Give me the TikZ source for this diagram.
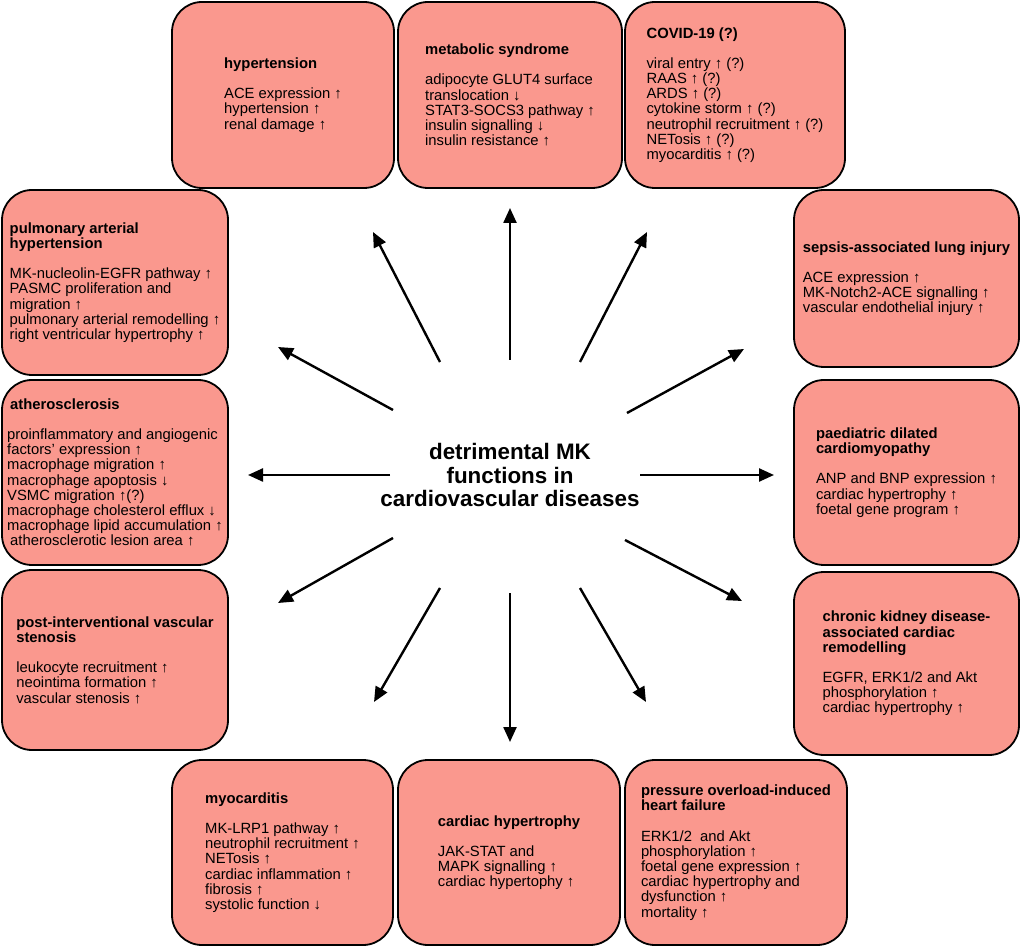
\documentclass[tikz,border=0pt]{standalone}
\usepackage{fontspec}
\setmainfont{Liberation Sans}
\usetikzlibrary{arrows.meta}
\definecolor{boxfill}{RGB}{250,152,142}
\begin{document}
\begin{tikzpicture}[x=1pt,y=-1pt,
  box/.style={draw=black, line width=1.8pt, fill=boxfill, rounded corners=30pt,
    align=left, font=\fontsize{14.8}{15.2}\selectfont, inner sep=0pt},
  arr/.style={line width=2.4pt, -{Triangle[length=15pt,width=13pt]}},
  ttl/.style={font=\bfseries\fontsize{22.4}{23.5}\selectfont, align=center}]
\useasboundingbox (0,0) rectangle (1021,949);

% top row
\node[box, minimum width=222pt, minimum height=186pt] (hyp) at (283,95)
  {\textbf{hypertension}\\[15pt]
   ACE expression ↑\\ hypertension ↑\\ renal damage ↑};
\node[box, minimum width=224pt, minimum height=186pt] (met) at (510,95)
  {\textbf{metabolic syndrome}\\[15pt]
   adipocyte GLUT4 surface\\ translocation ↓\\ STAT3-SOCS3 pathway ↑\\
   insulin signalling ↓\\ insulin resistance ↑};
\node[box, minimum width=220pt, minimum height=186pt] (cov) at (735,95)
  {\textbf{COVID-19 (?)}\\[15pt]
   viral entry ↑ (?)\\ RAAS ↑ (?)\\ ARDS ↑ (?)\\ cytokine storm ↑ (?)\\
   neutrophil recruitment ↑ (?)\\ NETosis ↑ (?)\\ myocarditis ↑ (?)};

% left column
\node[box, minimum width=226pt, minimum height=185pt] (pah) at (115,282.5)
  {\textbf{pulmonary arterial}\\ \textbf{hypertension}\\[15pt]
   MK-nucleolin-EGFR pathway ↑\\ PASMC proliferation and\\ migration ↑\\
   pulmonary arterial remodelling ↑\\ right ventricular hypertrophy ↑};
\node[box, minimum width=226pt, minimum height=185pt] (ath) at (115,472.5)
  {\hspace*{3pt}\textbf{atherosclerosis}\\[15pt]
   proinflammatory and angiogenic\\ factors' expression ↑\\
   macrophage migration ↑\\ macrophage apoptosis ↓\\ VSMC migration ↑(?)\\
   macrophage cholesterol efflux ↓\\ macrophage lipid accumulation ↑\\
   \hspace*{3pt}atherosclerotic lesion area ↑};
\node[box, minimum width=226pt, minimum height=180pt] (pis) at (115,660)
  {\textbf{post-interventional vascular}\\ \textbf{stenosis}\\[15pt]
   leukocyte recruitment ↑\\ neointima formation ↑\\ vascular stenosis ↑};

% right column
\node[box, minimum width=225pt, minimum height=177pt] (sep) at (906.5,278.5)
  {\textbf{sepsis-associated lung injury}\\[15pt]
   ACE expression ↑\\ MK-Notch2-ACE signalling ↑\\ vascular endothelial injury ↑};
\node[box, minimum width=225pt, minimum height=185pt] (pdc) at (906.5,472.5)
  {\textbf{paediatric dilated}\\ \textbf{cardiomyopathy}\\[15pt]
   ANP and BNP expression ↑\\ cardiac hypertrophy ↑\\ foetal gene program ↑};
\node[box, minimum width=225pt, minimum height=183pt] (ckd) at (906.5,663.5)
  {\textbf{chronic kidney disease-}\\ \textbf{associated cardiac}\\ \textbf{remodelling}\\[15pt]
   EGFR, ERK1/2 and Akt\\ phosphorylation ↑\\ cardiac hypertrophy ↑};

% bottom row
\node[box, minimum width=221pt, minimum height=185pt] (myo) at (282.5,852.5)
  {\textbf{myocarditis}\\[15pt]
   MK-LRP1 pathway ↑\\ neutrophil recruitment ↑\\ NETosis ↑\\
   cardiac inflammation ↑\\ fibrosis ↑\\ systolic function ↓};
\node[box, minimum width=222pt, minimum height=185pt] (chy) at (509,852.5)
  {\textbf{cardiac hypertrophy}\\[15pt]
   JAK-STAT and\\ MAPK signalling ↑\\ cardiac hypertophy ↑};
\node[box, minimum width=222pt, minimum height=185pt] (pof) at (736,852.5)
  {\textbf{pressure overload-induced}\\ \textbf{heart failure}\\[15pt]
   ERK1/2~ and Akt\\ phosphorylation ↑\\ foetal gene expression ↑\\
   cardiac hypertrophy and\\ dysfunction ↑\\ mortality ↑};

% centre
\node[ttl] (c) at (510,475) {detrimental MK\\functions in\\cardiovascular diseases};

% arrow ends
\coordinate (s1) at (510,360);  \coordinate (e1) at (510,208);
\coordinate (s2) at (440,362);  \coordinate (e2) at (373,232);
\coordinate (s3) at (580,362);  \coordinate (e3) at (647,232);
\coordinate (s4) at (393,410);  \coordinate (e4) at (278,347);
\coordinate (s5) at (627,413);  \coordinate (e5) at (744,349);
\coordinate (s6) at (390,475);  \coordinate (e6) at (248,475);
\coordinate (s7) at (640,475);  \coordinate (e7) at (774,475);
\coordinate (s8) at (393,538);  \coordinate (e8) at (278,603);
\coordinate (s9) at (625,540);  \coordinate (e9) at (742,601);
\coordinate (s10) at (440,588); \coordinate (e10) at (374,702);
\coordinate (s11) at (510,593); \coordinate (e11) at (510,742);
\coordinate (s12) at (580,588); \coordinate (e12) at (646,702);

\foreach \i in {1,...,12} \draw[arr] (s\i) -- (e\i);
\end{tikzpicture}
\end{document}
